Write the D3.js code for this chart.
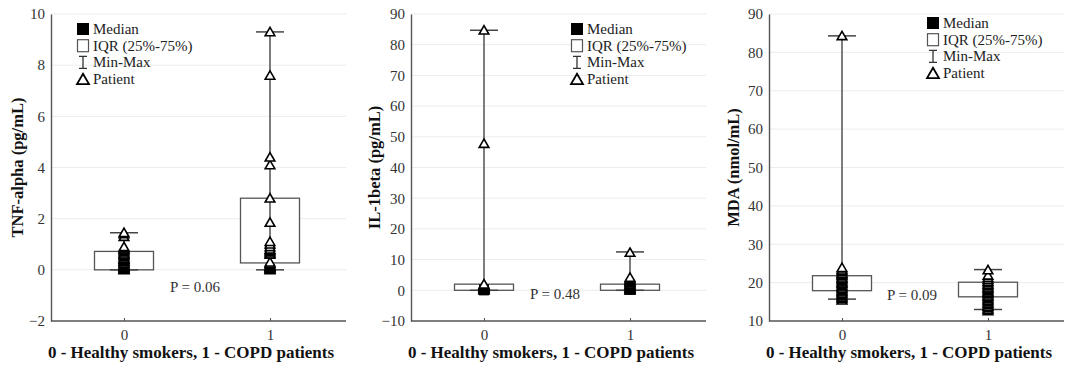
<!DOCTYPE html>
<html>
<head>
<meta charset="utf-8">
<script src="https://cdn.jsdelivr.net/npm/d3@7/dist/d3.min.js"></script>
<style>
  html, body { margin: 0; padding: 0; background: #fff; }
  svg { display: block; font-family: "Liberation Serif", "Times New Roman", serif; }
  svg text { font-family: "Liberation Serif", "Times New Roman", serif; }
</style>
</head>
<body>
<svg id="chart" width="1066" height="374"></svg>
<script>
// Group codes on the x axis
const groups = ["0", "1"];
const xTitle = "0 - Healthy smokers, 1 - COPD patients";
const legendLabels = ["Median", "IQR (25%-75%)", "Min-Max", "Patient"];

// TNF-alpha (pg/mL)
const tnfTicks = [-2, 0, 2, 4, 6, 8, 10];
const tnfHealthy = [0.0, 0.02, 0.05, 0.08, 0.1, 0.12, 0.15, 0.18, 0.2, 0.25, 0.3, 0.33, 0.35, 0.4, 0.42, 0.45, 0.5, 0.55, 0.6, 0.65, 0.7, 0.75, 0.8, 0.85, 0.9, 1.3, 1.4, 1.45];
const tnfCopd = [0.0, 0.03, 0.05, 0.08, 0.1, 0.13, 0.15, 0.2, 0.25, 0.3, 0.6, 0.65, 0.7, 0.75, 0.8, 0.9, 1.0, 1.1, 1.85, 2.8, 4.1, 4.4, 7.6, 9.3];
// [min, q1, median, q3, max] per group
const tnfSummary = [[0.0, 0.0, 0.45, 0.72, 1.45], [0.0, 0.27, 0.7, 2.8, 9.3]];
const tnfP = "P = 0.06";

// IL-1beta (pg/mL)
const ilTicks = [-10, 0, 10, 20, 30, 40, 50, 60, 70, 80, 90];
const ilHealthy = [0.0, 0.2, 0.4, 0.5, 0.7, 0.9, 1.0, 1.2, 1.4, 1.6, 1.8, 2.0, 47.8, 84.7];
const ilCopd = [0.0, 0.2, 0.4, 0.6, 0.8, 1.0, 1.3, 1.5, 1.8, 2.0, 2.3, 2.6, 2.9, 3.2, 3.5, 3.8, 4.2, 12.3];
const ilSummary = [[0.0, 0.0, 0.3, 2.0, 84.7], [0.0, 0.0, 0.5, 2.0, 12.5]];
const ilP = "P = 0.48";

// MDA (nmol/mL)
const mdaTicks = [10, 20, 30, 40, 50, 60, 70, 80, 90];
const mdaHealthy = [15.4, 15.8, 16.1, 16.5, 16.8, 17.1, 17.5, 17.8, 18.1, 18.4, 18.8, 19.1, 19.4, 19.8, 20.1, 20.4, 20.8, 21.1, 21.4, 21.8, 22.1, 22.4, 22.8, 23.1, 23.5, 23.9, 84.3];
const mdaCopd = [12.6, 13.0, 13.4, 13.8, 14.2, 14.6, 15.0, 15.3, 15.7, 16.0, 16.4, 16.7, 17.1, 17.4, 17.8, 18.1, 18.5, 18.8, 19.2, 19.5, 19.9, 20.3, 20.8, 21.3, 21.9, 23.3];
const mdaSummary = [[15.7, 17.9, 20.0, 21.8, 84.3], [13.0, 16.3, 18.0, 20.1, 23.4]];
const mdaP = "P = 0.09";

const panels = [
  { title: "TNF-alpha (pg/mL)", ticks: tnfTicks, points: [tnfHealthy, tnfCopd], summary: tnfSummary, p: tnfP,
    left: 51, right: 343, top: 14, bottom: 321, titleX: 17, legendX: 83, legendY: 29, pX: 195, pY: 292 },
  { title: "IL-1beta (pg/mL)", ticks: ilTicks, points: [ilHealthy, ilCopd], summary: ilSummary, p: ilP,
    left: 411, right: 703, top: 14, bottom: 321, titleX: 374, legendX: 577, legendY: 29, pX: 555, pY: 299 },
  { title: "MDA (nmol/mL)", ticks: mdaTicks, points: [mdaHealthy, mdaCopd], summary: mdaSummary, p: mdaP,
    left: 769, right: 1061, top: 14, bottom: 321, titleX: 733, legendX: 933, legendY: 23, pX: 912, pY: 300 }
];

const svg = d3.select("#chart");
const axisColor = "#555";
const boxW = 59, capW = 28;
const tri = d3.symbol().type(d3.symbolTriangle).size(40);
const triLegend = d3.symbol().type(d3.symbolTriangle).size(62);

panels.forEach(pn => {
  const g = svg.append("g");
  const y = d3.scaleLinear().domain(d3.extent(pn.ticks)).range([pn.bottom, pn.top]);
  const x = d3.scalePoint().domain(groups).range([pn.left, pn.right]).padding(0.5);

  // horizontal grid
  g.append("g").selectAll("line").data(pn.ticks.slice(1)).join("line")
    .attr("x1", pn.left).attr("x2", pn.right + 3)
    .attr("y1", d => y(d)).attr("y2", d => y(d))
    .attr("stroke", "#ececec").attr("stroke-width", 1);

  // y axis
  const ya = g.append("g").attr("transform", `translate(${pn.left},0)`)
    .call(d3.axisLeft(y).tickValues(pn.ticks).tickSize(0).tickPadding(6));
  ya.attr("font-family", null);
  ya.select(".domain").attr("stroke", axisColor).attr("stroke-width", 1.4);
  ya.selectAll("text").attr("font-size", 15).attr("fill", "#333");

  // x axis
  const xa = g.append("g").attr("transform", `translate(0,${pn.bottom})`)
    .call(d3.axisBottom(x).tickSizeInner(-3).tickSizeOuter(0).tickPadding(8));
  xa.attr("font-family", null);
  xa.select(".domain").attr("d", `M${pn.left},0H${pn.right + 3}`)
    .attr("stroke", axisColor).attr("stroke-width", 1.4);
  xa.selectAll(".tick line").attr("stroke", axisColor);
  xa.selectAll("text").attr("font-size", 15).attr("fill", "#333");

  // axis titles
  g.append("text")
    .attr("transform", `translate(${pn.titleX},${(pn.top + pn.bottom) / 2}) rotate(-90)`)
    .attr("text-anchor", "middle").attr("dominant-baseline", "central")
    .attr("font-size", 16.5).attr("font-weight", "bold").attr("fill", "#111")
    .text(pn.title);
  g.append("text")
    .attr("x", (pn.left + pn.right) / 2 - 6).attr("y", 358)
    .attr("text-anchor", "middle")
    .attr("font-size", 17).attr("font-weight", "bold").attr("fill", "#111")
    .text(xTitle);

  // boxes, whiskers, caps
  groups.forEach((grp, i) => {
    const [mn, q1, med, q3, mx] = pn.summary[i];
    const cx = x(grp);
    g.append("rect")
      .attr("x", cx - boxW / 2).attr("width", boxW)
      .attr("y", y(q3)).attr("height", y(q1) - y(q3))
      .attr("fill", "#fff").attr("stroke", "#555").attr("stroke-width", 1.3);
    g.append("line").attr("x1", cx).attr("x2", cx)
      .attr("y1", y(mx)).attr("y2", y(mn))
      .attr("stroke", "#666").attr("stroke-width", 1.7);
    [mn, mx].forEach(v => {
      g.append("line").attr("x1", cx - capW / 2).attr("x2", cx + capW / 2)
        .attr("y1", y(v)).attr("y2", y(v))
        .attr("stroke", "#444").attr("stroke-width", 1.5);
    });
    // median marker
    g.append("rect").attr("x", cx - 5).attr("y", y(med) - 5)
      .attr("width", 10).attr("height", 11).attr("fill", "#000");
    // individual patients
    g.append("g").selectAll("path").data(pn.points[i]).join("path")
      .attr("d", tri)
      .attr("transform", d => `translate(${cx},${y(d) + 1})`)
      .attr("fill", "#fff").attr("stroke", "#000").attr("stroke-width", 1.6);
  });

  // P value
  g.append("text").attr("x", pn.pX).attr("y", pn.pY)
    .attr("text-anchor", "middle").attr("font-size", 15).attr("fill", "#333")
    .text(pn.p);

  // legend
  const lg = g.append("g").attr("transform", `translate(${pn.legendX},${pn.legendY})`);
  const rowH = 16.7;
  legendLabels.forEach((lab, k) => {
    const ry = k * rowH;
    if (k === 0) {
      lg.append("rect").attr("x", -6).attr("y", ry - 6).attr("width", 12).attr("height", 12).attr("fill", "#000");
    } else if (k === 1) {
      lg.append("rect").attr("x", -5.5).attr("y", ry - 6).attr("width", 11).attr("height", 12)
        .attr("fill", "#fff").attr("stroke", "#555").attr("stroke-width", 1.2);
    } else if (k === 2) {
      lg.append("path").attr("d", `M-4,${ry - 6}H4M0,${ry - 6}V${ry + 6}M-4,${ry + 6}H4`)
        .attr("stroke", "#333").attr("stroke-width", 1.3).attr("fill", "none");
    } else {
      lg.append("path").attr("d", triLegend).attr("transform", `translate(0,${ry + 1.5})`)
        .attr("fill", "#fff").attr("stroke", "#000").attr("stroke-width", 1.8);
    }
    lg.append("text").attr("x", 10).attr("y", ry).attr("dominant-baseline", "central")
      .attr("font-size", 15).attr("fill", "#222").text(lab);
  });
});
</script>
</body>
</html>
